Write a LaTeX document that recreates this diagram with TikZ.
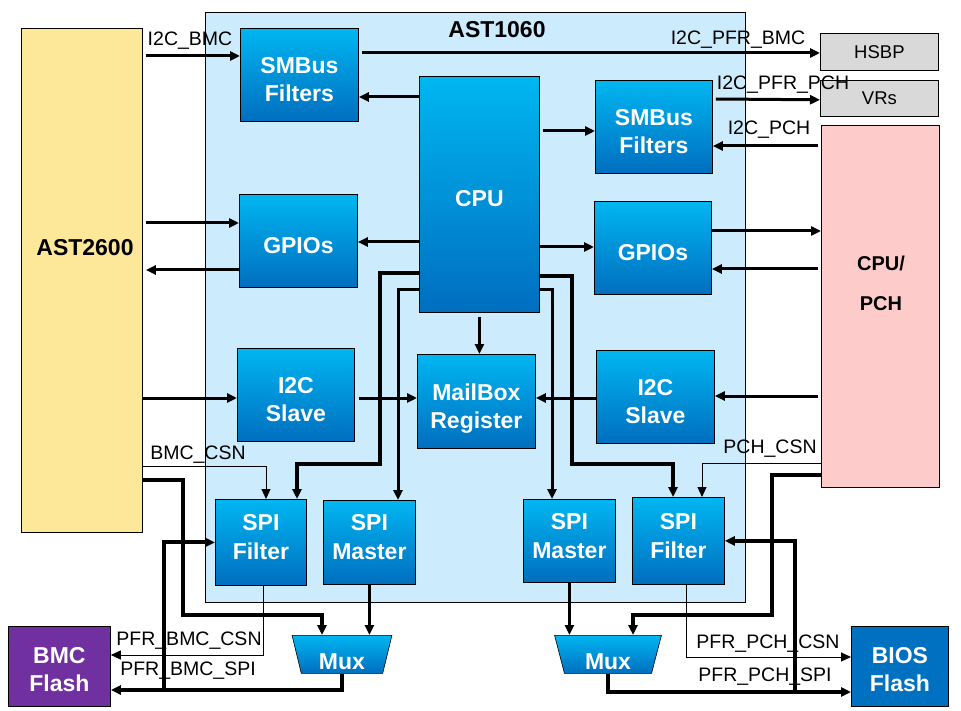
\documentclass[tikz,border=0pt]{standalone}
\usepackage{fontspec}
\setmainfont{Liberation Sans}
\usetikzlibrary{arrows.meta,calc,positioning,shapes.geometric}

\definecolor{blktop}{HTML}{00B6F1}
\definecolor{blkbot}{HTML}{006EBF}
\definecolor{chipbg}{HTML}{CCEBFC}
\definecolor{yel}{HTML}{FDE799}
\definecolor{pnk}{HTML}{FECBCB}
\definecolor{gry}{HTML}{D9D9D9}
\definecolor{purp}{HTML}{7030A0}
\definecolor{biosblue}{HTML}{0070C0}

\tikzset{
  sz/.style 2 args={minimum width=#1,minimum height=#2},
  ext/.style={draw,line width=0.8pt,inner sep=0pt,anchor=north west,align=center},
  txt/.style={text=white,align=center,inner sep=0pt,text depth=0pt,yshift=-4.5pt,
              font=\fontsize{23}{28}\selectfont\bfseries},
  blk/.style={ext,top color=blktop,bottom color=blkbot,label={[txt]center:{#1}}},
  spi/.style={ext,top color=blktop,bottom color=blkbot,
              label={[txt,yshift=9.5pt,font=\fontsize{23}{29}\selectfont\bfseries]center:{#1}}},
  mux/.style={trapezium,trapezium left angle=108,trapezium right angle=108,
              trapezium stretches=true,draw,line width=0.6pt,inner sep=0pt,
              top color=blktop,bottom color=blkbot,anchor=north,
              font=\fontsize{23}{28}\selectfont\bfseries,
              label={[txt,yshift=-2.5pt]center:Mux}},
  lbl/.style={inner sep=0pt,font=\fontsize{19.5}{22}\selectfont},
  bus/.style={line width=4pt},
  sig/.style={line width=3pt},
  thin/.style={line width=1pt}
}

\begin{document}
\begin{tikzpicture}[x=1pt,y=-1pt,>={Triangle[length=10pt,width=9pt]}]
\useasboundingbox (0,0) rectangle (961,711);

\node [ext,fill=chipbg,sz={540}{590}]                 (ast10)    at (205,12)  {};
\node [inner sep=0pt,font=\fontsize{23}{28}\selectfont\bfseries] (ast10lbl) at (497,30) {AST1060};
\node [ext,fill=yel,sz={121}{504}]                    (ast26)    at (21,28)   {};
\node [inner sep=0pt,font=\fontsize{23}{28}\selectfont\bfseries] (ast26lbl) at (85,248) {AST2600};
\node [ext,fill=gry,sz={118}{37},font=\fontsize{18.5}{22}\selectfont] (hsbp) at (820,33) {HSBP};
\node [ext,fill=gry,sz={118}{36},font=\fontsize{18.5}{22}\selectfont,below=9pt of hsbp.south west,anchor=north west] (vrs) {VRs};
\node [ext,fill=pnk,sz={118}{362}]                    (pch)      at (821,125) {};
\node [align=center,inner sep=0pt,font=\fontsize{20}{40}\selectfont\bfseries] (pchlbl) at (881,283) {CPU/\\PCH};
\node [ext,fill=purp,sz={102}{80},label={[txt,yshift=1pt]center:{BMC\\Flash}}]      (bmcf)  at (8,626)   {};
\node [ext,fill=biosblue,sz={97}{80},label={[txt,yshift=1pt]center:{BIOS\\Flash}}] (biosf) at (851,626) {};

\node [blk={SMBus\\Filters},sz={118}{93}]    (smbl)  at (240,28)  {};
\node [blk=CPU,sz={120}{236}]                (cpu)   at (419,76)  {};
\node [blk={SMBus\\Filters},sz={117}{93}]    (smbr)  at (595,80)  {};
\node [blk=GPIOs,sz={118}{93}]               (gpiol) at (239,194) {};
\node [blk=GPIOs,sz={117}{93}]               (gpior) at (594,201) {};
\node [blk={I2C\\Slave},sz={117}{93}]        (i2cl)  at (237,348) {};
\node [blk={MailBox\\Register},sz={118}{94}] (mbox)  at (417,354) {};
\node [blk={I2C\\Slave},sz={118}{93}]        (i2cr)  at (596,350) {};
\node [spi={SPI\\Filter},sz={91}{86}]        (spifl) at (215,499) {};
\node [spi={SPI\\Master},sz={92}{84}]        (spiml) at (323,500) {};
\node [spi={SPI\\Master},sz={92}{83}]        (spimr) at (523,499) {};
\node [spi={SPI\\Filter},sz={92}{87}]        (spifr) at (632,497) {};
\node [mux,sz={100}{38}]                     (muxl)  at (342,635) {\phantom{Mux}};
\node [mux,sz={107}{38}]                     (muxr)  at (608,635) {\phantom{Mux}};

\node [lbl] (li2cbmc)   at (190,41)  {I2C\_BMC};
\node [lbl] (lpfrbmc)   at (738,40)  {I2C\_PFR\_BMC};
\node [lbl] (lpfrpch)   at (783,85)  {I2C\_PFR\_PCH};
\node [lbl] (li2cpch)   at (769,130) {I2C\_PCH};
\node [lbl] (lbmccsn)   at (198,455) {BMC\_CSN};
\node [lbl] (lpchcsn)   at (770,449) {PCH\_CSN};
\node [lbl] (lpbmccsn)  at (189,641) {PFR\_BMC\_CSN};
\node [lbl] (lpbmcspi)  at (188,671) {PFR\_BMC\_SPI};
\node [lbl] (lppchcsn)  at (768,644) {PFR\_PCH\_CSN};
\node [lbl] (lppchspi)  at (765,677) {PFR\_PCH\_SPI};

\draw [sig,->] ($(ast26.north east)+(3,28)$)  -- ($(smbl.north west)+(0,28)$);
\draw [sig,->] ($(smbl.north east)+(3,25)$)   -- ($(hsbp.north west)+(0,20)$);
\draw [sig,->] ($(cpu.north west)+(0,21)$)    -- ($(smbl.north east)+(0,69)$);
\draw [sig,->] ($(cpu.north east)+(3,55)$)    -- ($(smbr.north west)+(0,51)$);
\draw [sig,->] ($(smbr.north east)+(3,19)$)   -- ($(vrs.north west)+(0,20)$);
\draw [sig,->] ($(pch.north west)+(-3,21)$)   -- ($(smbr.north east)+(0,66)$);
\draw [sig,->] ($(ast26.north east)+(3,195)$) -- ($(gpiol.north west)+(0,29)$);
\draw [sig,->] ($(gpiol.north west)+(0,76)$)  -- ($(ast26.north east)+(3,242)$);
\draw [sig,->] ($(cpu.north west)+(0,166)$)   -- ($(gpiol.north east)+(0,48)$);
\draw [sig,->] ($(cpu.north east)+(0,171)$)   -- ($(gpior.north west)+(0,46)$);
\draw [sig,->] ($(gpior.north east)+(0,30)$)  -- ($(pch.north west)+(0,106)$);
\draw [sig,->] ($(pch.north west)+(-3,144)$)  -- ($(gpior.north east)+(0,68)$);
\draw [sig,->] ($(cpu.south)+(0,4)$)          -- (cpu.south |- mbox.north);
\draw [sig,->] ($(ast26.north east)+(0,370)$) -- ($(i2cl.north west)+(0,50)$);
\draw [sig,->] ($(i2cl.north east)+(4,50)$)   -- ($(mbox.north west)+(0,44)$);
\draw [sig,->] ($(i2cr.north west)+(0,48)$)   -- ($(mbox.north east)+(0,44)$);
\draw [sig,->] ($(pch.north west)+(-3,271)$)  -- ($(i2cr.north east)+(0,46)$);

\draw [thin,->] ($(ast26.north east)+(0,438)$) -| ($(spifl.north west)+(51,0)$);
\draw [bus,->]  ($(ast26.north east)+(0,452)$) -- ++(40,0) |- ($(muxl.north)+(-20,-20)$) -- ($(muxl.north)+(-20,0)$);
\draw [bus,->]  ($(cpu.north west)+(0,197)$) -- ++(-39,0) -- ++(0,191) -| ($(spifl.north west)+(82,0)$);
\draw [sig,->]  ($(cpu.north west)+(0,214)$) -| ($(spiml.north west)+(75,0)$);
\draw [sig,->]  ($(cpu.north east)+(0,214)$) -| ($(spimr.north west)+(29,0)$);
\draw [bus,->]  ($(cpu.north east)+(0,200)$) -- ++(32,0) -- ++(0,188) -| ($(spifr.north west)+(41,0)$);
\draw [thin,->] ($(pch.north west)+(0,338)$) -| ($(spifr.north west)+(70,0)$);
\draw [bus,->]  ($(pch.north west)+(0,350)$) -- ++(-49,0) |- ($(muxr.north)+(25,-20)$) -- ($(muxr.north)+(25,0)$);

\draw [sig,->]  (spiml.south) -- (spiml.south |- muxl.north);
\draw [sig,->]  (spimr.south) -- (spimr.south |- muxr.north);

\draw [thin,->] ($(spifl.south west)+(48,0)$) |- ($(bmcf.north east)+(0,29)$);
\draw [bus,->]  (muxl.south) |- ($(bmcf.north east)+(0,64)$);
\draw [bus,->]  ($(bmcf.north east)+(53,64)$) |- (spifl.west);
\draw [thin,->] ($(spifr.south west)+(54,0)$) |- ($(biosf.north west)+(0,31)$);
\draw [bus,->]  (muxr.south) |- ($(biosf.north west)+(0,66)$);
\draw [bus,->]  ($(biosf.north west)+(-56,66)$) |- (spifr.east);
\end{tikzpicture}
\end{document}
